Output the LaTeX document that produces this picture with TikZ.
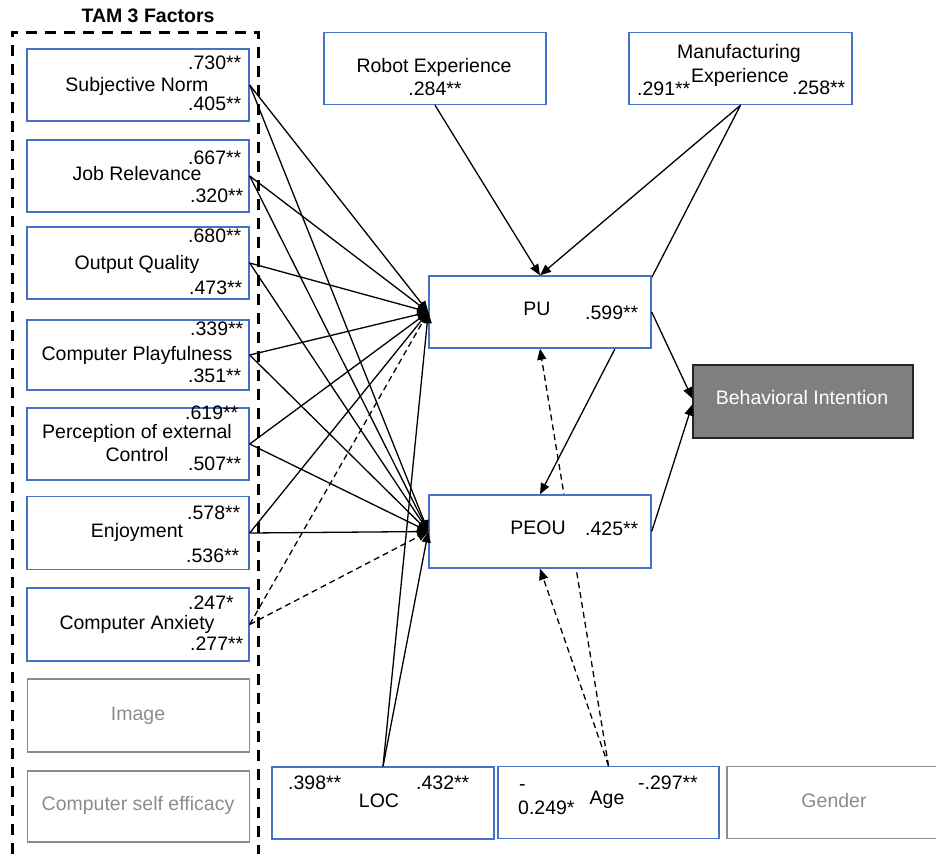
\documentclass[tikz,border=0pt]{standalone}
\usepackage{fontspec}
\setmainfont{Liberation Sans}
\usetikzlibrary{arrows.meta,backgrounds}
\definecolor{boxblue}{HTML}{4472C4}
\definecolor{boxgray}{HTML}{8C8C8C}
\definecolor{bifill}{HTML}{7F7F7F}
\definecolor{biline}{HTML}{262626}
\begin{document}
\begin{tikzpicture}[x=1pt,y=-1pt,
  font=\fontsize{19.5}{22}\selectfont,
  box/.style={draw=boxblue, line width=1.4pt, fill=white, minimum width=222pt, minimum height=72pt, inner sep=0pt},
  gbox/.style={draw=boxgray, line width=1.4pt, fill=white, minimum width=222pt, minimum height=72pt, inner sep=0pt},
  bibox/.style={draw=biline, line width=1.4pt, fill=bifill, minimum width=220pt, minimum height=73pt, inner sep=0pt},
  txt/.style={inner sep=0pt, anchor=mid},
  num/.style={inner sep=0pt, anchor=mid west},
  gtxt/.style={txt, text=boxgray},
  conn/.style={line width=1.3pt, draw=black, -{Triangle[length=11pt,width=9pt]}},
  dconn/.style={conn, dash pattern=on 6pt off 4pt},
  tamline/.style={line width=3pt, dash pattern=on 11pt off 8pt}
]
\useasboundingbox (0,0) rectangle (936,854);
\clip (0,0) rectangle (936,854);

% TAM 3 frame
\draw[tamline] (12,854) -- (12,32) -- (258,32) -- (258,854);
\node[txt, font=\fontsize{19.5}{22}\selectfont\bfseries] (tam) at (148,20) {TAM 3 Factors};

% boxes
\node[box] (sn) at (138,85) {};
\node[box] (jr) at (138,176) {};
\node[box] (oq) at (138,263) {};
\node[box, minimum height=70pt] (cp) at (138,355) {};
\node[box] (pec) at (138,444) {};
\node[box, minimum height=73pt] (enj) at (138,533) {};
\node[box, minimum height=73pt] (ca) at (138,624.5) {};
\node[gbox, minimum height=73pt] (img) at (138.5,715.5) {};
\node[gbox, minimum height=71pt] (cse) at (138.5,806.5) {};
\node[box] (loc) at (383,803) {};
\node[box, minimum width=221pt] (age) at (608.5,802.5) {};
\node[gbox] (gen) at (838,802.5) {};
\node[box] (rob) at (435,68.5) {};
\node[box, minimum width=223pt] (mfg) at (740.5,68.5) {};
\node[box] (pu) at (540,312) {};
\node[box, minimum height=73pt] (peou) at (540,531.5) {};
\node[bibox] (bi) at (803,401.5) {};

% connectors hidden behind boxes
\begin{scope}[on background layer]
\fill[white] (0,0) rectangle (936,854);
\draw[dconn] (age.north) -- (pu.south);
\draw[conn] (mfg.south) -- (peou.north);
\end{scope}

% texts
\node[num] (sna) at (188,67) {.730**};
\node[txt] (snl) at (137,89) {Subjective Norm};
\node[num] (snb) at (188,108) {.405**};

\node[num] (jra) at (188,162) {.667**};
\node[txt] (jrl) at (137,178) {Job Relevance};
\node[num] (jrb) at (190,200) {.320**};

\node[num] (oqa) at (188,240) {.680**};
\node[txt] (oql) at (137,267) {Output Quality};
\node[num] (oqb) at (189,292) {.473**};

\node[num] (cpa) at (190,333) {.339**};
\node[txt] (cpl) at (137,358) {Computer Playfulness};
\node[num] (cpb) at (188,380) {.351**};

\node[num] (peca) at (185,416.5) {.619**};
\node[txt] (pecl) at (137,436) {Perception of external};
\node[txt] (pecm) at (137,458.5) {Control};
\node[num] (pecb) at (188,468) {.507**};

\node[num] (enja) at (187,517) {.578**};
\node[txt] (enjl) at (137,535) {Enjoyment};
\node[num] (enjb) at (186,560) {.536**};

\node[num] (caa) at (188,607) {.247*};
\node[txt] (cal) at (137,627) {Computer Anxiety};
\node[num] (cab) at (190,648) {.277**};

\node[gtxt] (imgl) at (138,718) {Image};
\node[gtxt] (csel) at (138,808) {Computer self efficacy};

\node[num] (loca) at (288,787) {.398**};
\node[txt] (locl) at (379,805) {LOC};
\node[num] (locb) at (416,787) {.432**};

\node[num] (agea) at (519,788) {-};
\node[num] (ageb) at (518,812) {0.249*};
\node[txt] (agel) at (607,802) {Age};
\node[num] (agec) at (638,787) {-.297**};

\node[gtxt] (genl) at (834,805) {Gender};

\node[txt] (robl) at (434,70) {Robot Experience};
\node[txt] (roba) at (435,93) {.284**};

\node[txt] (mfgl) at (739,56) {Manufacturing};
\node[txt] (mfgm) at (740,80) {Experience};
\node[num] (mfga) at (637,93) {.291**};
\node[num] (mfgb) at (792,92) {.258**};

\node[txt] (pul) at (537,313) {PU};
\node[num] (pua) at (585,317) {.599**};

\node[txt] (peoul) at (538,532) {PEOU};
\node[num] (peoua) at (585,533) {.425**};

\node[txt, text=white] (bil) at (802,402) {Behavioral Intention};

% connectors
\foreach \s in {sn,jr,oq,cp,pec,enj}{
  \draw[conn] (\s.east) -- (pu.west);
  \draw[conn] (\s.east) -- (peou.west);
}
\draw[dconn] (ca.east) -- (pu.west);
\draw[dconn] (ca.east) -- (peou.west);
\draw[conn] (loc.north) -- (pu.west);
\draw[conn] (loc.north) -- (peou.west);
\draw[dconn] (age.north) -- (peou.south);
\draw[conn] (rob.south) -- (pu.north);
\draw[conn] (mfg.south) -- (pu.north);
\draw[conn] (pu.east) -- ([yshift=3pt]bi.west);
\draw[conn] (peou.east) -- ([yshift=-3pt]bi.west);
\end{tikzpicture}
\end{document}
